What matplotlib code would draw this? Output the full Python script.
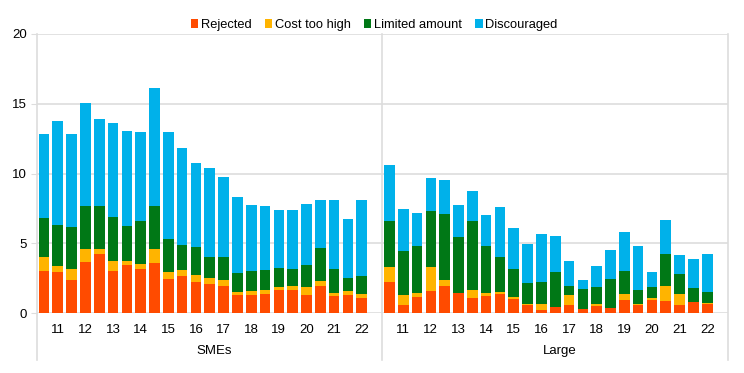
import numpy as np
import matplotlib
matplotlib.use("Agg")
import matplotlib.pyplot as plt
from matplotlib.transforms import blended_transform_factory

plt.rcParams['font.family'] = ['Liberation Sans', 'DejaVu Sans']

groups = ["SMEs", "Large"]
year_labels = ["11", "12", "13", "14", "15", "16", "17", "18", "19", "20", "21", "22"]
series = ["Rejected", "Cost too high", "Limited amount", "Discouraged"]
colors = ["#FF4B00", "#FFB400", "#007816", "#00B1EA"]

# cumulative tops (rejected, +cost, +limited, +discouraged)
sme_top = [
    [3.03, 4.01, 6.78, 12.86], [2.91, 3.34, 6.32, 13.79], [2.39, 3.15, 6.18, 12.82],
    [3.68, 4.61, 7.64, 15.06], [4.20, 4.61, 7.68, 13.89], [3.03, 3.75, 6.90, 13.60],
    [3.41, 3.70, 6.21, 13.03], [3.15, 3.53, 6.63, 12.94], [3.60, 4.58, 7.68, 16.11],
    [2.41, 2.91, 5.32, 13.01], [2.63, 3.10, 4.89, 11.84], [2.22, 2.72, 4.75, 10.74],
    [2.08, 2.53, 4.03, 10.43], [1.91, 2.36, 3.99, 9.74], [1.29, 1.48, 2.84, 8.28],
    [1.31, 1.60, 2.98, 7.76], [1.34, 1.65, 3.05, 7.64], [1.62, 1.89, 3.20, 7.35],
    [1.65, 1.96, 3.13, 7.37], [1.31, 1.86, 3.41, 7.83], [1.96, 2.27, 4.63, 8.09],
    [1.22, 1.43, 3.15, 8.09], [1.29, 1.58, 2.51, 6.73], [1.05, 1.34, 2.63, 8.11],
]
large_top = [
    [2.20, 3.29, 6.59, 10.64], [0.60, 1.26, 4.42, 7.49], [1.12, 1.43, 4.77, 7.16],
    [1.58, 3.32, 7.30, 9.67], [1.91, 2.39, 7.09, 9.52], [1.46, 1.46, 5.44, 7.71],
    [1.05, 1.62, 6.63, 8.71], [1.19, 1.46, 4.77, 7.06], [1.34, 1.53, 4.03, 7.59],
    [1.03, 1.17, 3.15, 6.11], [0.57, 0.62, 2.17, 4.96], [0.19, 0.62, 2.22, 5.63],
    [0.45, 0.45, 2.91, 5.54], [0.55, 1.29, 1.91, 3.75], [0.31, 0.31, 1.69, 2.36],
    [0.50, 0.64, 1.84, 3.34], [0.33, 0.38, 2.41, 4.49], [0.91, 1.38, 3.03, 5.80],
    [0.57, 0.62, 1.62, 4.82], [0.93, 1.07, 1.86, 2.91], [0.88, 1.91, 4.25, 6.66],
    [0.55, 1.34, 2.77, 4.15], [0.76, 0.81, 1.79, 3.89], [0.64, 0.69, 1.48, 4.22],
]

W, H = 744, 373
fig = plt.figure(figsize=(W / 100, H / 100), dpi=100)
ax = fig.add_axes([37 / W, (H - 313) / H, (728 - 37) / W, (313 - 34) / H])

slots = 25
n = len(sme_top)
for g, data in enumerate([sme_top, large_top]):
    tops = np.array(data)
    x = g * slots + np.arange(n) + 0.5
    bottom = np.zeros(n)
    for k in range(4):
        h = tops[:, k] - bottom
        ax.bar(x, h, bottom=bottom, width=0.77, color=colors[k],
               label=series[k] if g == 0 else None, linewidth=0, zorder=3)
        bottom = tops[:, k]

ax.set_xlim(0, 2 * slots)
ax.set_ylim(0, 20)
ax.set_yticks([0, 5, 10, 15, 20])
ax.grid(axis="y", color="#DDDDDD", linewidth=1.2, zorder=0)
for s in ax.spines.values():
    s.set_visible(False)

ticks = []
labels = []
for g in range(2):
    for j, lab in enumerate(year_labels):
        ticks.append(g * slots + 2 * j + 1 + 0.5)
        labels.append(lab)
ax.set_xticks(ticks)
ax.set_xticklabels(labels)
ax.tick_params(axis="x", length=0, pad=8, labelsize=9.5)
ax.tick_params(axis="y", length=4, color="#DDDDDD", labelsize=9.5, pad=3)

ymin = (313 - 360) / (313 - 34)
for xv in [0, slots, 2 * slots]:
    ax.axvline(xv, ymin=ymin, ymax=1, color="#DDDDDD", linewidth=1.2, clip_on=False, zorder=1)

trans = blended_transform_factory(ax.transData, ax.transAxes)
for g, name in enumerate(groups):
    ax.text(g * slots + slots / 2 + 0.3, (313 - 351) / (313 - 34), name, transform=trans,
            ha="center", va="center", fontsize=9.5)

fig.legend(loc="center", bbox_to_anchor=(374 / W, 1 - 25 / H), ncol=4, frameon=False,
           fontsize=9.3, handlelength=0.6, handleheight=0.6, handletextpad=0.2,
           columnspacing=1.0, borderaxespad=0)

fig.savefig("out.png", dpi=100)
